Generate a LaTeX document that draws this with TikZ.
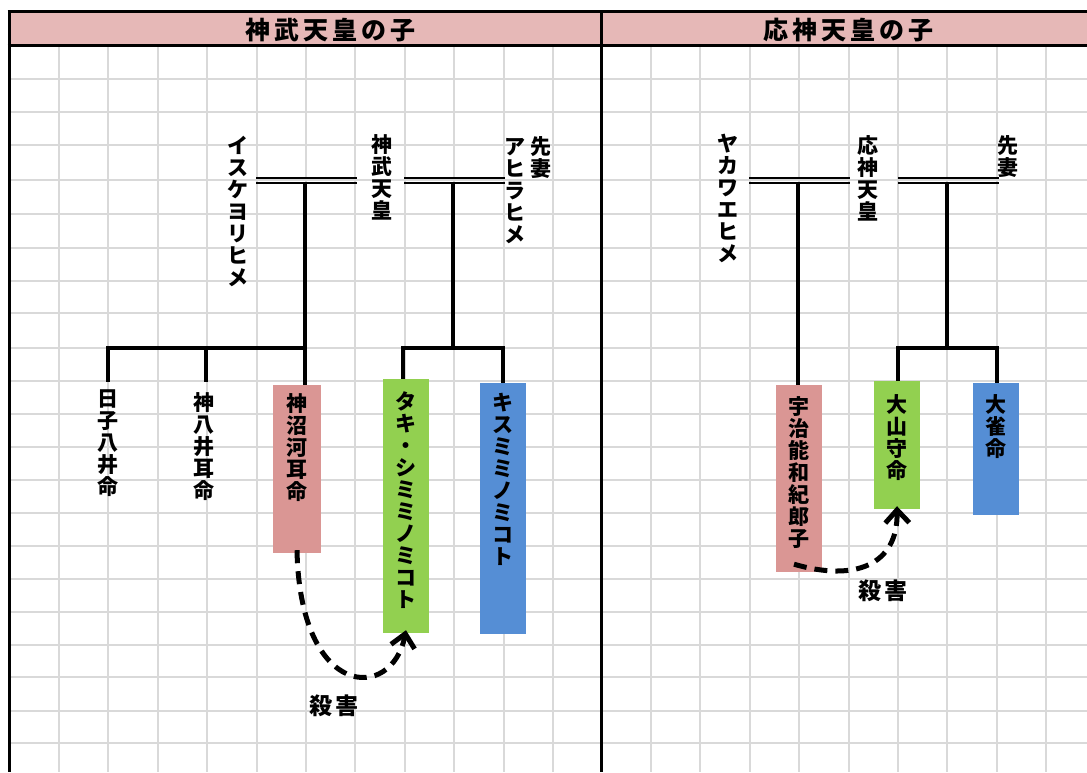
\documentclass[tikz,border=0pt]{standalone}
\usepackage{fontspec}
\setmainfont{Noto Sans CJK JP}
\usetikzlibrary{arrows.meta}
\definecolor{headpink}{HTML}{E6B8B7}
\definecolor{boxpink}{HTML}{DA9694}
\definecolor{boxgreen}{HTML}{92D050}
\definecolor{boxblue}{HTML}{558ED5}
\definecolor{gridgray}{HTML}{D9D9D9}
\newcommand\vname[4]{\foreach \c [count=\i from 0] in {#4}{\node[vch] (#1-\i) at ({#2},{#3+22*\i+8}) {\c};}}
\begin{document}
\begin{tikzpicture}[x=1pt,y=-1pt,
  gridline/.style={draw=gridgray,line width=2pt},
  border/.style={draw=black,line width=3pt},
  vch/.style={anchor=base,inner sep=0pt,font=\bfseries\fontsize{21}{21}\selectfont},
  headtext/.style={inner sep=0pt,font=\bfseries\fontsize{25}{25}\selectfont},
  killtext/.style={inner sep=0pt,font=\bfseries\fontsize{23}{23}\selectfont},
  tline/.style={draw=black,line width=3.4pt},
  dline/.style={draw=black,line width=1.8pt},
  pbox/.style={draw=none,inner sep=0pt},
  kill/.style={draw=black,line width=5pt,dash pattern=on 13pt off 8pt,-{Straight Barb[length=13pt,width=24pt]}}
]
\useasboundingbox (0,0) rectangle (1087,772);
\fill[white] (0,0) rectangle (1087,772);
% grid
\foreach \x in {59,108,158,207,257,306,355,405,454,504,553,651,700,750,799,849,898,947,997,1046}
  \draw[gridline] (\x,45.5) -- (\x,772);
\foreach \y in {79,112,145,180,214,248,281,313,348,381,414,447,480,513,546,579,612,645,677,711,743}
  \draw[gridline] (9,\y) -- (1087,\y);
% header
\fill[headpink] (9,11.5) rectangle (1087,45.5);
\draw[border] (7.5,11.5) -- (1087,11.5);
\draw[border] (7.5,45.5) -- (1087,45.5);
\draw[border] (9,10) -- (9,772);
\draw[border] (601,10) -- (601,772);
\node[headtext] (hL) at (330,30) {神\kern4pt 武\kern4pt 天\kern4pt 皇\kern4pt の\kern4pt 子};
\node[headtext] (hR) at (848,30) {応\kern4pt 神\kern4pt 天\kern4pt 皇\kern4pt の\kern4pt 子};

% boxes
\node[pbox,fill=boxpink,minimum width=48pt,minimum height=168pt] (pinkL) at (297,469) {};
\node[pbox,fill=boxgreen,minimum width=46pt,minimum height=254pt] (greenL) at (406,506) {};
\node[pbox,fill=boxblue,minimum width=46pt,minimum height=251pt] (blueL) at (503,508.5) {};
\node[pbox,fill=boxpink,minimum width=46pt,minimum height=187pt] (pinkR) at (799,478.5) {};
\node[pbox,fill=boxgreen,minimum width=46pt,minimum height=128pt] (greenR) at (897,445) {};
\node[pbox,fill=boxblue,minimum width=46pt,minimum height=132pt] (blueR) at (996,449) {};

% names, left
\vname{isuke}{238}{145}{イ,ス,ケ,ヨ,リ,ヒ,メ}
\vname{jimmu}{382}{144}{神,武,天,皇}
\vname{ahira}{515}{146}{ア,ヒ,ラ,ヒ,メ}
\vname{senL}{541}{146}{先,妻}
\vname{hiko}{108}{398}{日,子,八,井,命}
\vname{kamuya}{204}{402}{神,八,井,耳,命}
\vname{kamunu}{297}{403}{神,沼,河,耳,命}
\vname{tagi}{406}{401}{タ,キ,・,シ,ミ,ミ,ノ,ミ,コ,ト}
\vname{kisu}{503}{402}{キ,ス,ミ,ミ,ノ,ミ,コ,ト}
% names, right
\vname{yaka}{728}{143}{ヤ,カ,ワ,エ,ヒ,メ}
\vname{ojin}{868}{145}{応,神,天,皇}
\vname{senR}{1008}{145}{先,妻}
\vname{uji}{799}{406}{宇,治,能,和,紀,郎,子}
\vname{oyama}{897}{404}{大,山,守,命}
\vname{osaza}{996}{404}{大,雀,命}

% tree, left
\coordinate (dL1a) at (256,0); \coordinate (dL1b) at (357,0);
\draw[dline] (dL1a |- 0,178) -- (dL1b |- 0,178);
\draw[dline] (dL1a |- 0,183) -- (dL1b |- 0,183);
\coordinate (dL2a) at (404,0); \coordinate (dL2b) at (505,0);
\draw[dline] (dL2a |- 0,178) -- (dL2b |- 0,178);
\draw[dline] (dL2a |- 0,183) -- (dL2b |- 0,183);
\coordinate (sL1) at (305,183); \coordinate (bL1) at (305,348);
\coordinate (sL2) at (453,183); \coordinate (bL2) at (453,348);
\coordinate (cA) at (108,348); \coordinate (cB) at (206,348);
\coordinate (cD) at (403,348); \coordinate (cE) at (503,348);
\draw[tline] (sL1) -- (bL1);
\draw[tline] (sL2) -- (bL2);
\draw[tline] ([xshift=-1.7pt]cA) -- ([xshift=1.7pt]bL1);
\draw[tline] ([xshift=-1.7pt]cD) -- ([xshift=1.7pt]cE);
\draw[tline] (cA) -- (108,382);
\draw[tline] (cB) -- (206,382);
\draw[tline] (bL1) -- (bL1 |- pinkL.north);
\draw[tline] (cD) -- (cD |- greenL.north);
\draw[tline] (cE) -- (cE |- blueL.north);
% tree, right
\coordinate (dR1a) at (749,0); \coordinate (dR1b) at (850,0);
\draw[dline] (dR1a |- 0,178) -- (dR1b |- 0,178);
\draw[dline] (dR1a |- 0,183) -- (dR1b |- 0,183);
\coordinate (dR2a) at (898,0); \coordinate (dR2b) at (999,0);
\draw[dline] (dR2a |- 0,178) -- (dR2b |- 0,178);
\draw[dline] (dR2a |- 0,183) -- (dR2b |- 0,183);
\coordinate (sR1) at (798,183);
\coordinate (sR2) at (947,183); \coordinate (bR2) at (947,348);
\coordinate (cF) at (898,348); \coordinate (cG) at (997,348);
\draw[tline] (sR1) -- (sR1 |- pinkR.north);
\draw[tline] (sR2) -- (bR2);
\draw[tline] ([xshift=-1.7pt]cF) -- ([xshift=1.7pt]cG);
\draw[tline] (cF) -- (cF |- greenR.north);
\draw[tline] (cG) -- (cG |- blueR.north);

% kill arrows
\draw[kill] ([yshift=3pt]pinkL.south) .. controls (300,700) and (392,702) .. ([yshift=3pt]greenL.south);
\node[killtext] (kL) at (334,706) {殺\kern3pt 害};
\draw[kill] ([xshift=-5pt,yshift=8pt]pinkR.south) .. controls (855,582) and (898,565) .. ([yshift=3pt]greenR.south);
\node[killtext] (kR) at (883,591) {殺\kern3pt 害};
\end{tikzpicture}
\end{document}
